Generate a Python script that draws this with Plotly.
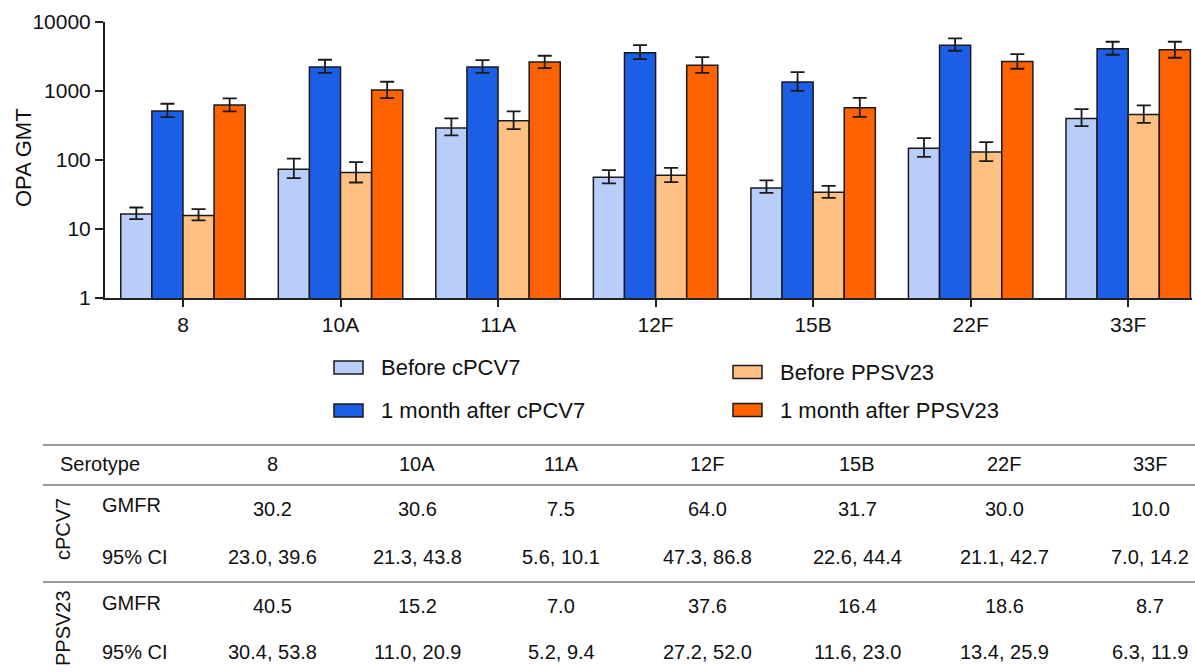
import plotly.graph_objects as go

# ---------------- data ----------------
serotypes = ["8", "10A", "11A", "12F", "15B", "22F", "33F"]

before_pcv = [16.5, 73.6, 292, 56.4, 39.4, 148.5, 401]
before_pcv_lo = [13.9, 54.6, 227, 45.7, 33.4, 111, 310]
before_pcv_hi = [20.5, 105, 401, 71.2, 50.5, 207, 546]

after_pcv = [511, 2223, 2223, 3584, 1347, 4592, 4100]
after_pcv_lo = [419, 1837, 1837, 2902, 1007, 3831, 3352]
after_pcv_hi = [653, 2838, 2806, 4636, 1881, 5795, 5171]

before_ppsv = [15.7, 66, 370, 60.3, 34.2, 131, 458]
before_ppsv_lo = [13.3, 47.2, 280, 47.7, 28.2, 96.2, 346]
before_ppsv_hi = [19.4, 93, 506, 76.9, 42.2, 181.5, 618]

after_ppsv = [625, 1031, 2625, 2353, 571, 2686, 3963]
after_ppsv_lo = [506, 789, 2149, 1837, 423, 2100, 3035]
after_ppsv_hi = [782, 1361, 3243, 3104, 797, 3434, 5171]

series_names = ["Before cPCV7", "1 month after cPCV7", "Before PPSV23", "1 month after PPSV23"]

y_tickvals = [1, 10, 100, 1000, 10000]
y_ticktext = ["1", "10", "100", "1000", "10000"]

gmfr_pcv = ["30.2", "30.6", "7.5", "64.0", "31.7", "30.0", "10.0"]
ci_pcv = ["23.0, 39.6", "21.3, 43.8", "5.6, 10.1", "47.3, 86.8", "22.6, 44.4", "21.1, 42.7", "7.0, 14.2"]
gmfr_ppsv = ["40.5", "15.2", "7.0", "37.6", "16.4", "18.6", "8.7"]
ci_ppsv = ["30.4, 53.8", "11.0, 20.9", "5.2, 9.4", "27.2, 52.0", "11.6, 23.0", "13.4, 25.9", "6.3, 11.9"]

# ---------------- styling ----------------
colors = ["#B8CDFA", "#1C5EE6", "#FFC083", "#FF6200"]
FONT = "Liberation Sans, Arial, sans-serif"
W, H = 1195, 672
ML, MR, MT, MB = 105, 3, 22, 374
PW = W - ML - MR
PH = H - MT - MB


def px(x):
    return (x - ML) / PW


def py(y):
    return (H - MB - y) / PH


fig = go.Figure()
vals = [before_pcv, after_pcv, before_ppsv, after_ppsv]
los = [before_pcv_lo, after_pcv_lo, before_ppsv_lo, after_ppsv_lo]
his = [before_pcv_hi, after_pcv_hi, before_ppsv_hi, after_ppsv_hi]
for name, v, lo, hi, c in zip(series_names, vals, los, his, colors):
    fig.add_trace(go.Bar(
        x=serotypes, y=v, name=name,
        marker=dict(color=c, line=dict(color="#1a1a1a", width=1.5)),
        error_y=dict(type="data", symmetric=False,
                     array=[h - a for h, a in zip(hi, v)],
                     arrayminus=[a - l for a, l in zip(v, lo)],
                     color="#1a1a1a", thickness=1.8, width=7),
        showlegend=False,
    ))

fig.update_layout(
    width=W, height=H,
    margin=dict(l=ML, r=MR, t=MT, b=MB),
    paper_bgcolor="white", plot_bgcolor="white",
    barmode="group", bargap=0.21, bargroupgap=0,
    font=dict(family=FONT, color="#111111"),
    xaxis=dict(
        type="category", range=[-0.495, 6.405],
        showline=True, linecolor="#222222", linewidth=2,
        ticks="outside", ticklen=7, tickwidth=2, tickcolor="#222222",
        tickfont=dict(size=21, family=FONT, color="#111111"),
        showgrid=False, zeroline=False,
    ),
    yaxis=dict(
        type="log", range=[0, 4],
        tickvals=y_tickvals, ticktext=y_ticktext,
        showline=True, linecolor="#222222", linewidth=2,
        ticks="outside", ticklen=8, tickwidth=2, tickcolor="#222222",
        tickfont=dict(size=21, family=FONT, color="#111111"),
        showgrid=False, zeroline=False,
    ),
)

shapes = []
annotations = []

# y-axis title
annotations.append(dict(text="OPA GMT", xref="paper", yref="paper",
                        x=px(23.5), y=py(157.5), xanchor="center", yanchor="middle",
                        textangle=-90, showarrow=False,
                        font=dict(size=22, family=FONT, color="#111111")))

# ---- legend (manual, two columns) ----
legend_items = [
    (series_names[0], colors[0], 334, 367.5),
    (series_names[1], colors[1], 334, 410.5),
    (series_names[2], colors[2], 733, 372),
    (series_names[3], colors[3], 733, 410),
]
for name, c, x0, yc in legend_items:
    shapes.append(dict(type="rect", xref="paper", yref="paper",
                       x0=px(x0), x1=px(x0 + 29), y0=py(yc - 6.5), y1=py(yc + 6.5),
                       fillcolor=c, line=dict(color="#1a1a1a", width=1.5)))
    annotations.append(dict(text=name, xref="paper", yref="paper",
                            x=px(x0 + 45), y=py(yc), xanchor="left", yanchor="middle",
                            showarrow=False, font=dict(size=22, family=FONT, color="#111111")))

# ---- table ----
for ly in [445, 485, 582]:
    shapes.append(dict(type="line", xref="paper", yref="paper",
                       x0=px(43), x1=px(1200), y0=py(ly), y1=py(ly),
                       line=dict(color="#999999", width=2)))

col_x = [272, 417, 561, 707, 857, 1004, 1150]
tfont = dict(size=20, family=FONT, color="#111111")


def txt(t, x, y, anchor="center", angle=0):
    annotations.append(dict(text=t, xref="paper", yref="paper", x=px(x), y=py(y),
                            xanchor=anchor, yanchor="middle", showarrow=False,
                            font=tfont, textangle=angle))


txt("Serotype", 58, 464, "left")
for s, cx in zip(serotypes, col_x):
    txt(s, cx, 464)

txt("cPCV7", 63, 529, angle=-90)
txt("PPSV23", 63, 628, angle=-90)
txt("GMFR", 100, 505, "left")
txt("95% CI", 100, 557, "left")
txt("GMFR", 100, 603, "left")
txt("95% CI", 100, 652, "left")

for cx, g, ci in zip(col_x, gmfr_pcv, ci_pcv):
    txt(g, cx, 509)
    txt(ci, cx, 557)
for cx, g, ci in zip(col_x, gmfr_ppsv, ci_ppsv):
    txt(g, cx, 606)
    txt(ci, cx, 652)

fig.update_layout(shapes=shapes, annotations=annotations)

fig.write_html("out.html",
               config={"displayModeBar": False},
               post_script="document.body.style.margin='0';document.body.style.overflow='hidden';")
